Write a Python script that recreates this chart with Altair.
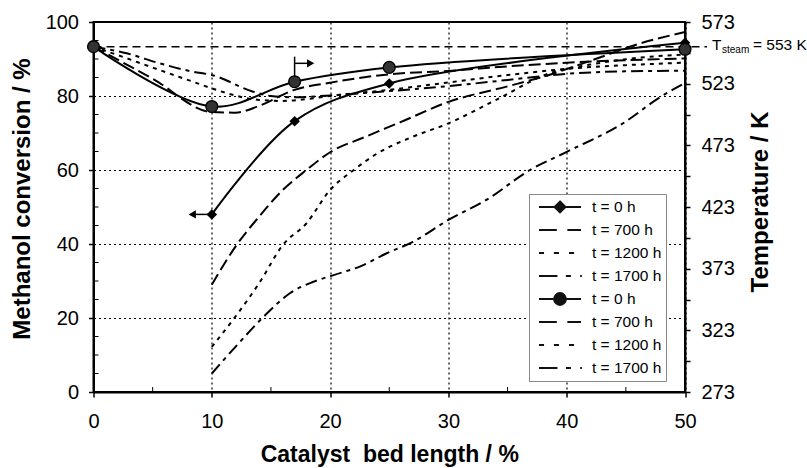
import altair as alt
import pandas as pd

# ---------------- data ----------------
# Methanol conversion (%), left axis
conv0_x = [10, 17, 25, 50]
conv0_v = [48.0, 73.2, 83.4, 94.4]
conv700_x = [10, 12, 14, 16, 18, 20, 23, 26, 30, 35, 38, 42, 46, 50]
conv700_v = [29.0, 39.3, 47.4, 54.6, 60.0, 64.8, 69.0, 73.0, 78.4, 82.6, 85.2, 89.5, 94.0, 97.3]
conv1200_x = [10, 12, 14, 16, 18, 20, 22, 24, 27, 30, 34, 38.6, 42, 46, 50]
conv1200_v = [12.2, 20.4, 29.4, 39.7, 45.6, 54.6, 60.0, 64.5, 69.0, 72.6, 78.9, 86.2, 88.5, 90.3, 91.2]
conv1700_x = [10, 12, 14.4, 16.6, 18.6, 20.3, 22.5, 24.8, 27, 30, 33.2, 36.9, 40, 44.8, 47.9, 50]
conv1700_v = [5.0, 12.2, 20.4, 26.7, 29.8, 31.6, 33.9, 37.5, 40.6, 46.5, 51.9, 60.0, 64.9, 72.7, 79.7, 83.5]

# Temperature (K), right axis
temp0_x = [0, 10, 17, 25, 50]
temp0_v = [553, 504.5, 524.6, 536.2, 550.9]
temp700_x = [0, 5, 10, 12, 14, 17, 20, 25, 30, 35, 40, 45, 50]
temp700_v = [553, 527, 500, 499.5, 505, 518, 523.8, 530.6, 533.3, 537, 540, 542, 543.5]
temp1200_x = [0, 2.8, 5.6, 8.4, 10, 12.4, 14, 16, 18, 20, 25, 30, 35, 40, 45, 50]
temp1200_v = [553, 543.6, 534, 524.6, 519.2, 512.4, 509.8, 509, 510.5, 513, 518, 524, 530, 535, 538, 540]
temp1700_x = [0, 2.8, 5.6, 8.4, 10, 13.5, 15, 17, 20, 25, 30, 35, 40, 45, 50]
temp1700_v = [553, 547.6, 539.5, 532.7, 530, 516.5, 513, 512, 513.5, 517, 521, 526, 531, 533, 533.5]

t_steam = [553]
x_ticks = [0, 10, 20, 30, 40, 50]
x_minor = [5, 15, 25, 35, 45]
conv_ticks = [0, 20, 40, 60, 80, 100]
conv_minor = [5, 10, 15, 25, 30, 35, 45, 50, 55, 65, 70, 75, 85, 90, 95]
temp_ticks = [273, 298, 323, 348, 373, 398, 423, 448, 473, 498, 523, 548, 573]

# arrows telling which axis each t = 0 h curve belongs to
arrow_left_x = [8.6, 10]
arrow_left_v = [48, 48]
arrow_right_x = [17, 18.1]
arrow_right_v = [539.5, 539.5]
arrow_right_stem = [528.6, 544.9]

times = ["0", "700", "1200", "1700"]
conv_keys = [f"Conversion, t = {t} h" for t in times]
temp_keys = [f"Temperature, t = {t} h" for t in times]
legend_keys = conv_keys + temp_keys

FONT = "Liberation Sans"

def series_df(xs, vs, col, key):
    return pd.DataFrame({"x": xs, col: vs, "series": key})

conv_data = [series_df(conv0_x, conv0_v, "conv", conv_keys[0]),
             series_df(conv700_x, conv700_v, "conv", conv_keys[1]),
             series_df(conv1200_x, conv1200_v, "conv", conv_keys[2]),
             series_df(conv1700_x, conv1700_v, "conv", conv_keys[3])]
temp_data = [series_df(temp0_x, temp0_v, "temp", temp_keys[0]),
             series_df(temp700_x, temp700_v, "temp", temp_keys[1]),
             series_df(temp1200_x, temp1200_v, "temp", temp_keys[2]),
             series_df(temp1700_x, temp1700_v, "temp", temp_keys[3])]

dashes = [None, [12, 5], [4, 5], [12, 5, 4, 5]]
interps = ["catmull-rom", "monotone", "monotone", "monotone"]

# ---------------- scales & axes ----------------
x_axis = alt.Axis(values=x_ticks, format="d", grid=True, gridDash=[2, 3], gridColor="black",
                  gridWidth=1.2, gridOpacity=1, domainColor="black", domainWidth=2,
                  tickColor="black", tickSize=5, tickWidth=1.5, labelFont=FONT, labelFontSize=20,
                  labelColor="black", labelPadding=14, labelFlush=False,
                  title="Catalyst\u00a0 bed length / %", titleFont=FONT, titleFontSize=23,
                  titleFontWeight="bold", titleColor="black", titleX=295.75, titleY=62,
                  titleAlign="center", titleBaseline="middle")
yl_axis = alt.Axis(values=conv_ticks, format="d", grid=True, gridDash=[2, 3], gridColor="black",
                   gridWidth=1.2, gridOpacity=1, domainColor="black", domainWidth=2,
                   tickColor="black", tickSize=5, tickWidth=1.5, labelFont=FONT, labelFontSize=20,
                   labelColor="black", labelPadding=10, labelFlush=False, orient="left",
                   title="Methanol conversion / %", titleFont=FONT, titleFontSize=24,
                   titleFontWeight="bold", titleColor="black", titleX=-71, titleY=176.5,
                   titleAngle=270, titleAlign="center", titleBaseline="middle")
yr_axis = alt.Axis(values=temp_ticks, grid=False, domainColor="black", domainWidth=2,
                   tickColor="black", tickSize=5, tickWidth=1.5, labelFont=FONT, labelFontSize=20,
                   labelColor="black", labelPadding=11, labelFlush=False, orient="right",
                   labelExpr="(datum.value - 273) % 50 == 0 ? datum.label : ''",
                   title="Temperature / K", titleFont=FONT, titleFontSize=24,
                   titleFontWeight="bold", titleColor="black", titleX=75, titleY=179.5,
                   titleAngle=270, titleAlign="center", titleBaseline="middle")

x_scale = alt.Scale(domain=[0, 50], nice=False, zero=False)
yl_scale = alt.Scale(domain=[0, 100], nice=False, zero=False)
yr_scale = alt.Scale(domain=[273, 573], nice=False, zero=False)

def X():
    return alt.X("x:Q", scale=x_scale, axis=x_axis)

def YL():
    return alt.Y("conv:Q", scale=yl_scale, axis=yl_axis)

def YR():
    return alt.Y("temp:Q", scale=yr_scale, axis=yr_axis)

# ---------------- left (conversion) layers ----------------
left_layers = []
for df, dash, itp in zip(conv_data, dashes, interps):
    kw = dict(color="black", strokeWidth=2, interpolate=itp)
    if dash:
        kw["strokeDash"] = dash
    left_layers.append(alt.Chart(df).mark_line(**kw).encode(x=X(), y=YL()))

left_layers.append(alt.Chart(conv_data[0]).mark_point(shape="diamond", filled=True, size=110,
                                                      color="black", opacity=1)
                   .encode(x=X(), y=YL()))

arrL = pd.DataFrame({"x": [arrow_left_x[0]], "x2": [arrow_left_x[1]], "conv": [arrow_left_v[0]]})
left_layers.append(alt.Chart(arrL).mark_rule(color="black", strokeWidth=1.5)
                   .encode(x=X(), x2="x2:Q", y=YL()))
left_layers.append(alt.Chart(arrL).mark_point(shape="triangle-left", filled=True, size=70,
                                              color="black", opacity=1, xOffset=-3)
                   .encode(x=X(), y=YL()))

# minor ticks (inside)
xm = pd.DataFrame({"x": x_minor, "conv": [0] * len(x_minor)})
left_layers.append(alt.Chart(xm).mark_rule(color="black", strokeWidth=1, y2Offset=-5)
                   .encode(x=X(), y=YL(), y2="conv:Q"))
ym = pd.DataFrame({"x": [0] * len(conv_minor), "conv": conv_minor})
left_layers.append(alt.Chart(ym).mark_rule(color="black", strokeWidth=1, x2Offset=5)
                   .encode(x=X(), x2="x:Q", y=YL()))

# legend (drawn by the library from the shape scale)
legend_paths = [
    "M-1,0H1M0,-0.26L0.26,0L0,0.26L-0.26,0Z",
    "M-1,0H-0.15M0.35,0H1",
    "M-1,0H-0.76M-0.29,0H-0.05M0.43,0H0.67",
    "M-1,0H-0.12M0.28,0H0.52M0.96,0H1.04",
    "M-1,0H1M0.28,0A0.28,0.28 0 1,1 -0.28,0A0.28,0.28 0 1,1 0.28,0Z",
    "M-1,0H-0.15M0.35,0H1",
    "M-1,0H-0.76M-0.29,0H-0.05M0.43,0H0.67",
    "M-1,0H-0.12M0.28,0H0.52M0.96,0H1.04",
]
leg_df = pd.DataFrame({"x": [0] * 8, "conv": [0] * 8, "series": legend_keys})
legend = alt.Legend(title=None, orient="none", legendX=435.5, legendY=172,
                    symbolSize=1764, symbolStrokeWidth=2,
                    labelFont=FONT, labelFontSize=15.5, labelColor="black",
                    labelExpr="split(datum.label, ', ')[1]",
                    clipHeight=18, rowPadding=5, padding=4, symbolOffset=5, labelOffset=10,
                    strokeColor="#888888", fillColor="white")
left_layers.append(alt.Chart(leg_df).mark_point(filled=True, fill="#111111", stroke="#111111",
                                                strokeWidth=2, opacity=1)
                   .encode(x=X(), y=YL(),
                           shape=alt.Shape("series:N",
                                           scale=alt.Scale(domain=legend_keys, range=legend_paths),
                                           legend=legend))
                   .transform_filter("false"))

# ---------------- right (temperature) layers ----------------
right_layers = []
steam = pd.DataFrame({"x": [0], "x2": [50], "temp": t_steam})
right_layers.append(alt.Chart(steam).mark_rule(color="black", strokeWidth=1.5, strokeDash=[8, 5],
                                               x2Offset=22)
                    .encode(x=X(), x2="x2:Q", y=YR()))

for df, dash, itp in zip(temp_data, dashes, interps):
    kw = dict(color="black", strokeWidth=2, interpolate=itp)
    if dash:
        kw["strokeDash"] = dash
    right_layers.append(alt.Chart(df).mark_line(**kw).encode(x=X(), y=YR()))

right_layers.append(alt.Chart(temp_data[0]).mark_point(shape="circle", filled=True, size=140,
                                                       fill="#333333", stroke="black",
                                                       strokeWidth=1.3, opacity=1)
                    .encode(x=X(), y=YR()))

stem = pd.DataFrame({"x": [arrow_right_x[0]], "temp": [arrow_right_stem[0]], "t2": [arrow_right_stem[1]]})
right_layers.append(alt.Chart(stem).mark_rule(color="black", strokeWidth=1.5)
                    .encode(x=X(), y=YR(), y2="t2:Q"))
arrR = pd.DataFrame({"x": [arrow_right_x[0]], "x2": [arrow_right_x[1]], "temp": [arrow_right_v[0]]})
right_layers.append(alt.Chart(arrR).mark_rule(color="black", strokeWidth=1.5)
                    .encode(x=X(), x2="x2:Q", y=YR()))
arrRh = pd.DataFrame({"x": [arrow_right_x[1]], "temp": [arrow_right_v[0]]})
right_layers.append(alt.Chart(arrRh).mark_point(shape="triangle-right", filled=True, size=70,
                                                color="black", opacity=1, xOffset=3)
                    .encode(x=X(), y=YR()))

lbl = pd.DataFrame({"x": [50], "temp": t_steam})
right_layers.append(alt.Chart(lbl).mark_text(text="T", align="left", baseline="middle", dx=27, dy=-2,
                                             font=FONT, fontSize=15.5, color="black")
                    .encode(x=X(), y=YR()))
right_layers.append(alt.Chart(lbl).mark_text(text="steam", align="left", baseline="middle", dx=37, dy=3,
                                             font=FONT, fontSize=10, color="black")
                    .encode(x=X(), y=YR()))
right_layers.append(alt.Chart(lbl).mark_text(text="= 553 K", align="left", baseline="middle", dx=68, dy=-2,
                                             font=FONT, fontSize=15.5, color="black")
                    .encode(x=X(), y=YR()))

chart = (alt.layer(alt.layer(*left_layers), alt.layer(*right_layers))
         .resolve_scale(y="independent")
         .properties(width=591.5, height=370,
                     autosize=alt.AutoSizeParams(type="none"),
                     padding={"left": 93.5, "top": 22, "right": 122, "bottom": 76})
         .configure(font=FONT, background="white")
         .configure_view(stroke="black", strokeWidth=2))

chart.save("out.html", embed_options={"renderer": "svg", "actions": False})
